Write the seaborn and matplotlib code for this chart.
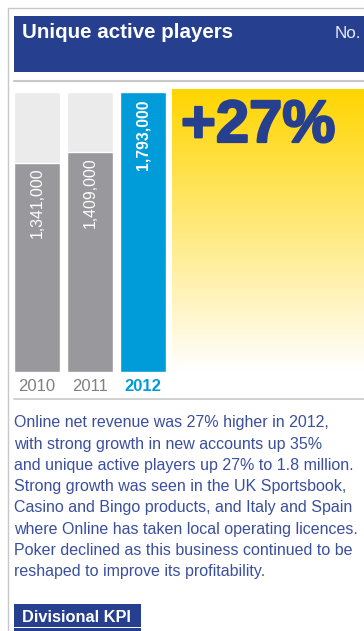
import matplotlib
matplotlib.use("Agg")
import matplotlib.pyplot as plt
import matplotlib.patheffects as pe
from matplotlib.patches import Rectangle
from matplotlib.lines import Line2D
import numpy as np
import pandas as pd
import seaborn as sns

# --- data -------------------------------------------------------------
years = ["2010", "2011", "2012"]
players = [1341000, 1409000, 1793000]
value_labels = ["1,341,000", "1,409,000", "1,793,000"]
growth_label = "+27%"
title = "Unique active players"
unit = "No."
body_lines = [
    "Online net revenue was 27% higher in 2012,",
    "with strong growth in new accounts up 35%",
    "and unique active players up 27% to 1.8 million.",
    "Strong growth was seen in the UK Sportsbook,",
    "Casino and Bingo products, and Italy and Spain",
    "where Online has taken local operating licences.",
    "Poker declined as this business continued to be",
    "reshaped to improve its profitability.",
]
footer = "Divisional KPI"

# --- style ------------------------------------------------------------
sns.set_theme(style="white")
plt.rcParams["font.family"] = ["Liberation Sans", "DejaVu Sans"]

NAVY = "#26408F"
GREY_BAR = "#99989D"
GREY_BG = "#EBEBEB"
CYAN = "#009BD9"
RULE = "#C8C8C8"
TEXT_BLUE = "#3A4F9E"
YEAR_GREY = "#808080"

W, H = 364, 631
fig = plt.figure(figsize=(W / 100, H / 100), dpi=100)
fig.patch.set_facecolor("white")


def fx(x):
    return x / W


def fy(y):
    return 1 - y / H


def rect(x0, y0, x1, y1, color):
    fig.add_artist(Rectangle((fx(x0), fy(y1)), fx(x1) - fx(x0), fy(y0) - fy(y1),
                             transform=fig.transFigure, color=color, lw=0))


def hline(x0, x1, y, lw=1.2):
    fig.add_artist(Line2D([fx(x0), fx(x1)], [fy(y), fy(y)], transform=fig.transFigure,
                          color=RULE, lw=lw))


# frame rules
hline(7.5, W, 8, lw=1.0)
fig.add_artist(Line2D([fx(7.5), fx(7.5)], [fy(8), 0], transform=fig.transFigure,
                      color=RULE, lw=1.0))
hline(14, W, 81, lw=1.5)
hline(14, W, 399, lw=1.2)

# header band
rect(14, 16, W, 72, NAVY)
fig.text(fx(22), fy(38), title, color="white", fontsize=14.8, fontweight="bold",
         va="baseline", ha="left")
fig.text(fx(335), fy(38), unit, color="#E8ECF5", fontsize=12.3, va="baseline", ha="left")

# yellow gradient panel
gax = fig.add_axes([fx(172), fy(372), fx(W) - fx(172), fy(89) - fy(372)])
grad = np.linspace(0, 1, 256)[:, None]
top = np.array([1.0, 0.835, 0.0])
img = top[None, None, :] * (1 - grad[:, :, None]) + np.ones(3)[None, None, :] * grad[:, :, None]
gax.imshow(img, aspect="auto", extent=[0, 1, 0, 1], origin="upper")
gax.set_axis_off()
fig.text(fx(181), fy(142), growth_label, color=NAVY, fontsize=43, fontweight="bold",
         va="baseline", ha="left",
         path_effects=[pe.withStroke(linewidth=1.6, foreground=NAVY)])

# bar chart
df = pd.DataFrame({"year": years, "players": players})
df["ceiling"] = max(players)
step = 53
ax = fig.add_axes([fx(14 - 3.5), fy(372), 3 * step / W, fy(92) - fy(372)])
sns.barplot(data=df, x="year", y="ceiling", color=GREY_BG, width=46 / step,
            saturation=1, ax=ax)
sns.barplot(data=df, x="year", y="players", hue="year",
            palette=[GREY_BAR, GREY_BAR, CYAN], width=46 / step, saturation=1,
            legend=False, ax=ax)
ax.set_ylim(0, max(players))
ax.set_xlim(-0.5, 2.5)
ax.set_xlabel("")
ax.set_ylabel("")
ax.set_yticks([])
sns.despine(ax=ax, left=True, bottom=True)
ax.tick_params(axis="x", length=0, pad=5)
ax.set_xticks(range(len(years)))
ax.set_xticklabels(years, fontsize=12)
for i, lab in enumerate(ax.get_xticklabels()):
    if i == len(years) - 1:
        lab.set_color(CYAN)
        lab.set_fontweight("bold")
    else:
        lab.set_color(YEAR_GREY)
ax.patch.set_alpha(0)

for i, (v, s) in enumerate(zip(players, value_labels)):
    last = i == len(players) - 1
    ax.annotate(s, (i, v), xytext=(0, -8 if last else -5), textcoords="offset pixels",
                rotation=90, ha="center", va="top", color="white", fontsize=11.3,
                fontweight="bold" if last else "normal")

# commentary
for i, line in enumerate(body_lines):
    fig.text(fx(14), fy(422.7 + i * 21.3), line, color=TEXT_BLUE, fontsize=11.5,
             va="center", ha="left")

# footer tab
rect(14, 604, 141, 627, NAVY)
rect(14, 628, 141, H, NAVY)
fig.text(fx(22), fy(617), footer, color="white", fontsize=11.8, fontweight="bold",
         va="center", ha="left")

fig.savefig("out.png", dpi=100)
